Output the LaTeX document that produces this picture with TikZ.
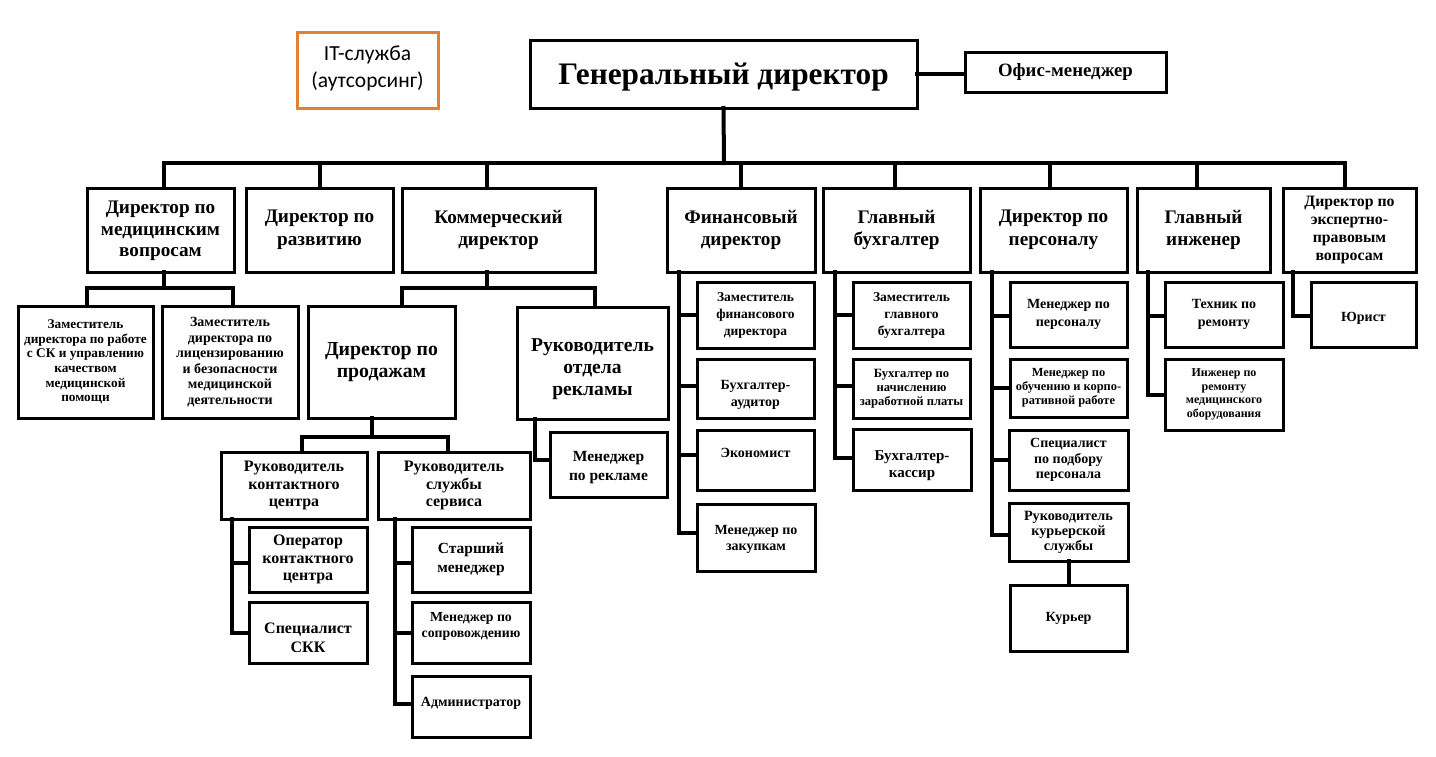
\documentclass[tikz,border=0pt]{standalone}
\usepackage{fontspec}
\setmainfont{Liberation Serif}
\newfontfamily\itfont{Carlito}
\usetikzlibrary{calc}
\definecolor{itorange}{RGB}{226,128,52}
\newcommand{\fsz}[2]{\fontsize{#1}{#2}\selectfont\bfseries}
\tikzset{
  boxst/.style={draw=black, line width=3pt, inner sep=0pt, outer sep=0pt, fill=white},
  txt/.style={align=center, inner sep=0pt, text=black},
  conn/.style={draw=black, line width=4pt, line cap=rect, line join=miter},
}
% #1 text shift down, #2 name, #3 x1, #4 y1, #5 x2, #6 y2, #7 font, #8 text
\newcommand{\bx}[8][0]{%
  \node[boxst, minimum width={(#5-#3)*1pt}, minimum height={(#6-#4)*1pt}] (#2) at ({(#3+#5)/2},{(#4+#6)/2}) {};
  \node[txt, font=#7] (#2-t) at ([yshift={-(#1)*1pt}]#2.center) {#8};
}
\begin{document}
\begin{tikzpicture}[x=1pt,y=-1pt]
\useasboundingbox (0,0) rectangle (1436,756);
\fill[white] (0,0) rectangle (1436,756);

% IT
\node[draw=itorange, line width=3pt, inner sep=0pt, minimum width=141pt, minimum height=76pt, fill=white] (it) at (367.5,70) {};
\node[txt, font=\itfont\fontsize{21.5}{27}\selectfont] (it-t) at ([yshift=2pt]it.center) {IT-служба\\(аутсорсинг)};

% top
\bx[3]{gd}{530}{40}{917}{108}{\fsz{31.3}{38}}{Генеральный директор}
\bx{office}{965}{52}{1166}{92}{\fsz{18.8}{22}}{Офис-менеджер}

% level 2
\bx[1]{med}{87}{188}{234}{272}{\fsz{19.2}{21.5}}{Директор по\\медицинским\\вопросам}
\bx{razv}{246}{188}{393}{272}{\fsz{19.2}{22.5}}{Директор по\\развитию}
\bx{kom}{402}{188}{595}{272}{\fsz{19.2}{22.5}}{Коммерческий\\директор}
\bx{fin}{667}{188}{815}{272}{\fsz{19.2}{22.5}}{Финансовый\\директор}
\bx{buh}{823}{188}{970}{272}{\fsz{19.2}{22.5}}{Главный\\бухгалтер}
\bx{pers}{980}{188}{1127}{272}{\fsz{19.2}{22.5}}{Директор по\\персоналу}
\bx{ing}{1137}{188}{1270}{272}{\fsz{19.2}{22.5}}{Главный\\инженер}
\bx{eksp}{1283}{188}{1416}{272}{\fsz{15.8}{18}}{Директор по\\экспертно-\\правовым\\вопросам}

% med children
\bx{zam1}{18}{306}{153}{418}{\fsz{13.3}{14.6}}{Заместитель\\директора по работе\\с СК и управлению\\качеством\\медицинской\\помощи}
\bx{zam2}{162}{306}{298}{418}{\fsz{14}{15.6}}{Заместитель\\директора по\\лицензированию\\и безопасности\\медицинской\\деятельности}

% commercial
\bx{prod}{308}{306}{455}{418}{\fsz{19.8}{22}}{Директор по\\продажам}
\bx[6]{rekl}{517}{307}{668}{419}{\fsz{19.6}{21.7}}{Руководитель\\отдела\\рекламы}
\bx[3]{mrekl}{550}{432}{667}{497}{\fsz{15.5}{19}}{Менеджер\\по рекламе}
\bx{kc}{221}{452}{367}{519}{\fsz{16}{17.5}}{Руководитель\\контактного\\центра}
\bx{serv}{378}{452}{530}{519}{\fsz{16}{17.5}}{Руководитель\\службы\\сервиса}
\bx{oper}{249}{527}{367}{592}{\fsz{16}{17.5}}{Оператор\\контактного\\центра}
\bx[5]{skk}{249}{602}{367}{663}{\fsz{16}{19}}{Специалист\\СКК}
\bx{star}{412}{527}{530}{592}{\fsz{15.5}{19.5}}{Старший\\менеджер}
\bx[-6]{sopr}{412}{602}{530}{663}{\fsz{13.8}{16}}{Менеджер по\\сопровождению}
\bx[-3]{adm}{412}{676}{530}{737}{\fsz{14}{16}}{Администратор}

% finance
\bx{zfin}{697}{282}{814}{348}{\fsz{13.5}{17}}{Заместитель\\финансового\\директора}
\bx[6]{aud}{697}{359}{814}{418}{\fsz{14}{17}}{Бухгалтер-\\аудитор}
\bx[-7]{econ}{697}{430}{814}{490}{\fsz{14}{17}}{Экономист}
\bx[2]{zak}{697}{504}{815}{571}{\fsz{14}{16.5}}{Менеджер по\\закупкам}

% chief accountant
\bx{zbuh}{853}{282}{970}{348}{\fsz{13.5}{17}}{Заместитель\\главного\\бухгалтера}
\bx{nach}{853}{359}{970}{418}{\fsz{12.6}{14}}{Бухгалтер по\\начислению\\заработной платы}
\bx[6]{kass}{853}{429}{971}{490}{\fsz{15}{17.5}}{Бухгалтер-\\кассир}

% personnel
\bx{mpers}{1010}{282}{1127}{347}{\fsz{14}{17.5}}{Менеджер по\\персоналу}
\bx{obuch}{1010}{359}{1127}{417}{\fsz{12.4}{14}}{Менеджер по\\обучению и корпо-\\ративной работе}
\bx{podb}{1009}{430}{1128}{490}{\fsz{14}{15.5}}{Специалист\\по подбору\\персонала}
\bx{kur}{1009}{503}{1128}{561}{\fsz{14.2}{15}}{Руководитель\\курьерской\\службы}
\bx{kurer}{1010}{585}{1127}{651}{\fsz{14}{17}}{Курьер}

% engineer
\bx{tech}{1165}{282}{1283}{347}{\fsz{14}{17.5}}{Техник по\\ремонту}
\bx{ingr}{1165}{359}{1283}{430}{\fsz{12}{13.5}}{Инженер по\\ремонту\\медицинского\\оборудования}

% expert
\bx[4]{jur}{1311}{282}{1416}{347}{\fsz{14}{17}}{Юрист}

% ---------- connectors ----------
\coordinate (bus) at (724,163);
\draw[conn] (gd.south) -- (bus);
\draw[conn] (gd.east) -- (gd.east -| office.west);
\draw[conn] ([xshift=3.5pt]med.north) -- ++(0,-25) -| ([xshift=-4.5pt]eksp.north);
\draw[conn] (razv.north) -- (razv.north |- bus);
\draw[conn] ([xshift=-11.5pt]kom.north) -- ([xshift=-11.5pt]kom.north |- bus);
\draw[conn] (fin.north) -- (fin.north |- bus);
\draw[conn] ([xshift=-1.5pt]buh.north) -- ([xshift=-1.5pt]buh.north |- bus);
\draw[conn] ([xshift=-3.5pt]pers.north) -- ([xshift=-3.5pt]pers.north |- bus);
\draw[conn] ([xshift=-6.5pt]ing.north) -- ([xshift=-6.5pt]ing.north |- bus);

% med
\draw[conn] ([xshift=3.5pt]med.south) -- ++(0,16);
\draw[conn] ([xshift=1.5pt]zam1.north) -- ++(0,-18) -| ([xshift=3pt]zam2.north);

% commercial
\draw[conn] ([xshift=-11.5pt]kom.south) -- ++(0,16);
\draw[conn] ([xshift=20.5pt]prod.north) -- ++(0,-18) -| ([xshift=2.5pt]rekl.north);

% sales
\draw[conn] ([xshift=-9.5pt]prod.south) -- ++(0,19);
\draw[conn] ([xshift=8pt]kc.north) -- ++(0,-15) -| ([xshift=-6pt]serv.north);

% contact centre
\coordinate (kcv) at ([xshift=11pt]kc.south west);
\draw[conn] (kcv) |- (skk.west);
\draw[conn] ([yshift=-3.5pt]oper.west) -- ([yshift=-3.5pt]oper.west -| kcv);

% service
\coordinate (sv) at ([xshift=17pt]serv.south west);
\draw[conn] (sv) |- ([yshift=2.5pt]adm.west);
\draw[conn] ([yshift=-3.5pt]star.west) -- ([yshift=-3.5pt]star.west -| sv);
\draw[conn] (sopr.west) -- (sopr.west -| sv);

% advertising
\coordinate (rv) at ([xshift=18pt]rekl.south west);
\draw[conn] (rv) |- ([yshift=5pt]mrekl.west);

% finance
\coordinate (fv) at ([xshift=12pt]fin.south west);
\draw[conn] (fv) |- ([yshift=4.5pt]zak.west);
\draw[conn] (zfin.west) -- (zfin.west -| fv);
\draw[conn] ([yshift=2.5pt]aud.west) -- ([yshift=2.5pt]aud.west -| fv);
\draw[conn] ([yshift=5pt]econ.west) -- ([yshift=5pt]econ.west -| fv);

% chief accountant
\coordinate (bv) at ([xshift=12pt]buh.south west);
\draw[conn] (bv) |- ([yshift=1.5pt]kass.west);
\draw[conn] (zbuh.west) -- (zbuh.west -| bv);
\draw[conn] ([yshift=2.5pt]nach.west) -- ([yshift=2.5pt]nach.west -| bv);

% personnel
\coordinate (pv) at ([xshift=12pt]pers.south west);
\draw[conn] (pv) |- ([yshift=-3pt]kur.west);
\draw[conn] ([yshift=-1.5pt]mpers.west) -- ([yshift=-1.5pt]mpers.west -| pv);
\draw[conn] (obuch.west) -- (obuch.west -| pv);
\draw[conn] (podb.west) -- (podb.west -| pv);
\draw[conn] (kur.south) -- (kurer.north);

% engineer
\coordinate (iv) at ([xshift=11pt]ing.south west);
\draw[conn] (iv) |- (ingr.west);
\draw[conn] ([yshift=-1.5pt]tech.west) -- ([yshift=-1.5pt]tech.west -| iv);

% expert
\coordinate (ev) at ([xshift=10pt]eksp.south west);
\draw[conn] (ev) |- ([yshift=-1.5pt]jur.west);
\end{tikzpicture}
\end{document}
